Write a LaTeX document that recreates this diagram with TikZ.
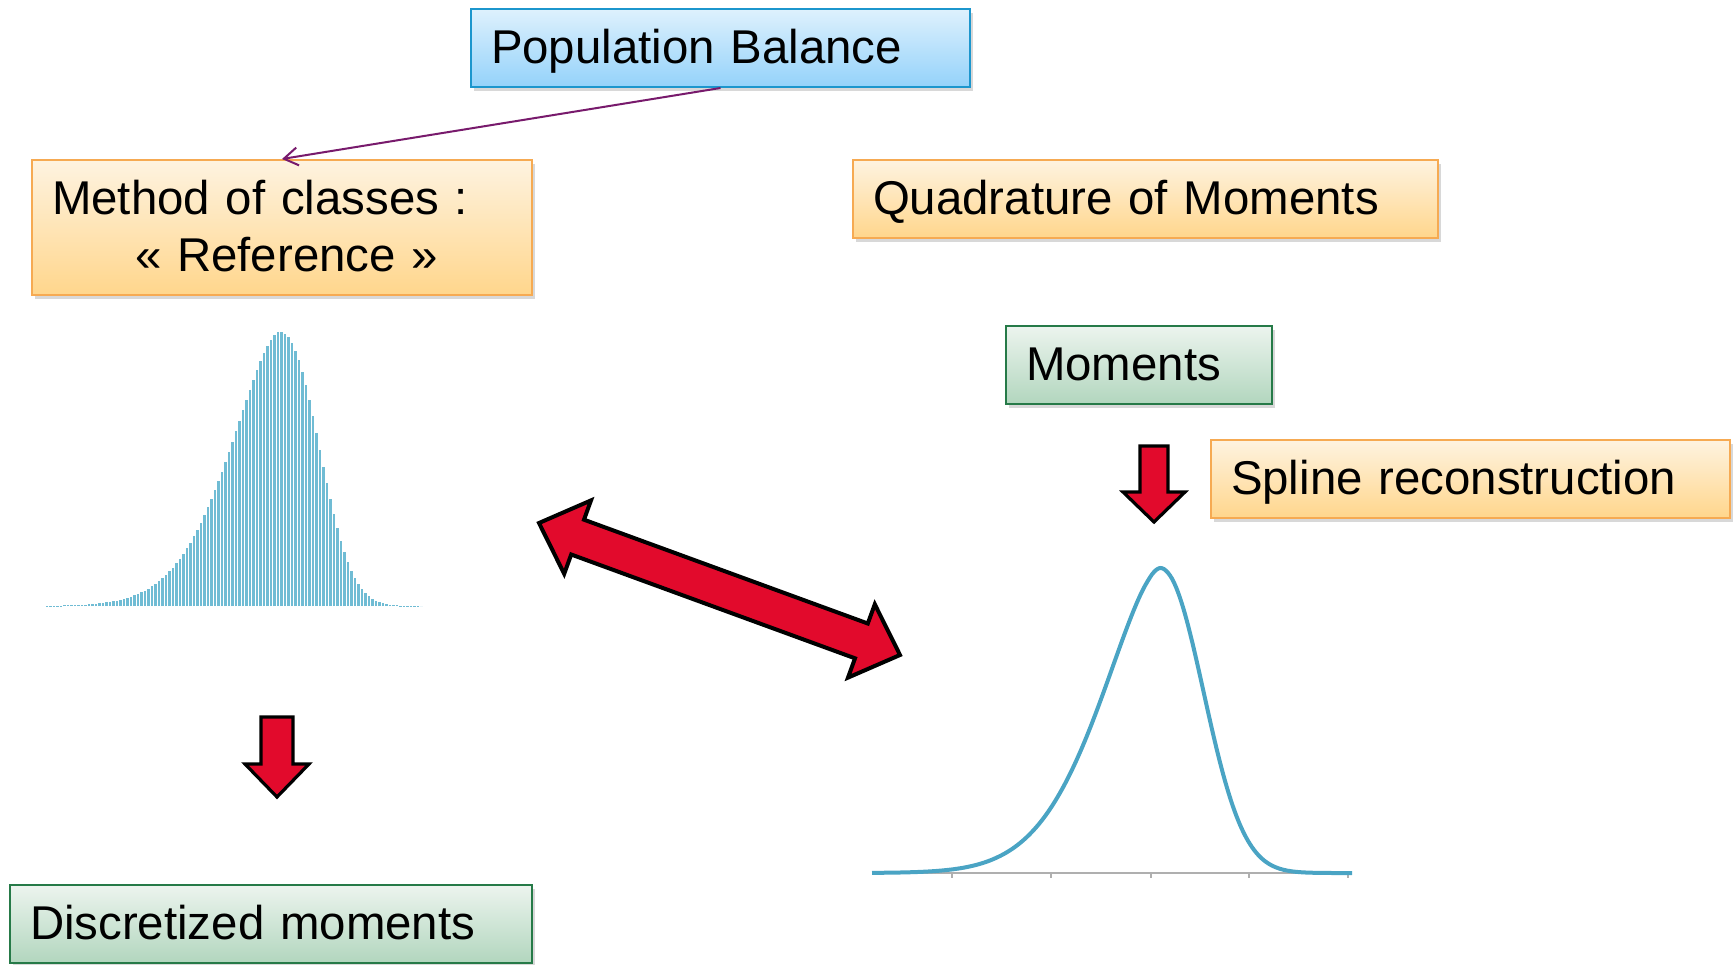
\documentclass[tikz,border=0pt]{standalone}
\usepackage{fontspec}
\setmainfont{Liberation Sans}
\usetikzlibrary{arrows.meta,shadows}

\definecolor{boxorange}{RGB}{246,170,82}
\definecolor{orangetop}{RGB}{254,243,224}
\definecolor{orangebot}{RGB}{255,214,140}
\definecolor{boxblue}{RGB}{28,150,205}
\definecolor{bluetop}{RGB}{222,241,253}
\definecolor{bluebot}{RGB}{148,210,250}
\definecolor{boxgreen}{RGB}{38,122,72}
\definecolor{greentop}{RGB}{236,244,238}
\definecolor{greenbot}{RGB}{178,214,190}
\definecolor{arrowred}{RGB}{226,10,44}
\definecolor{linkpurple}{RGB}{120,26,108}
\definecolor{curveblue}{RGB}{74,164,196}
\definecolor{barblue}{RGB}{112,188,212}
\definecolor{axisgrey}{RGB}{175,175,175}

\begin{document}
\begin{tikzpicture}[x=0.5pt,y=0.5pt,yscale=-1,xscale=1,
  textbox/.style={anchor=north west, rectangle, line width=1pt, inner xsep=10pt, inner ysep=0pt,
    align=left, font=\fontsize{23.7pt}{28.5pt}\selectfont, text height=27.3pt, text depth=11.7pt,
    drop shadow={shadow xshift=1.5pt, shadow yshift=-2pt, opacity=0.3}},
  orangebox/.style={textbox, draw=boxorange, top color=orangetop, bottom color=orangebot},
  bluebox/.style={textbox, draw=boxblue, top color=bluetop, bottom color=bluebot},
  greenbox/.style={textbox, draw=boxgreen, top color=greentop, bottom color=greenbot},
  link/.style={draw=linkpurple, line width=1pt, -{Straight Barb[length=7pt,width=9pt]}},
  blockarrow/.style={fill=arrowred, draw=black, line width=1.6pt, line join=miter},
  bar/.style={draw=barblue, line width=1.25pt},
  curve/.style={draw=curveblue, line width=2pt, line join=round},
  axisline/.style={draw=axisgrey, line width=0.6pt}]
%set diagram size
\path[use as bounding box, fill=white] (0,0) rectangle (1735,964);

% Text Node
\node[bluebox, text width=229.5pt] (popbal) at (470,8) {Population Balance};
% Text Node
\node[orangebox, text width=230pt, text depth=40.2pt] (classes) at (31,159) {Method of classes :\\\hspace*{41.5pt}« Reference »};
% Text Node
\node[orangebox, text width=272.5pt] (quadmom) at (852,159) {Quadrature of Moments};
% Text Node
\node[greenbox, text width=113pt] (moments) at (1005,325) {Moments};
% Text Node
\node[orangebox, text width=239.5pt] (spline) at (1210,439) {Spline reconstruction};
% Text Node
\node[greenbox, text width=241pt] (discmom) at (9,884) {Discretized moments};

%Straight Lines
\draw[link] (popbal.south) -- (classes.north);

%Histogram of classes
\foreach \i in {0,...,107}{
  \pgfmathsetmacro{\xb}{47+3.5*\i}
  \pgfmathsetmacro{\hb}{\xb<279 ? 274*exp(-pow(abs(\xb-279)/70.1,1.63)) : 274*exp(-pow(abs(\xb-279)/52.9,2.27))}
  \draw[bar] (\xb,606) -- (\xb,606-\hb);
}

%Reconstructed curve and axis
\draw[axisline] (872,873) -- (1352,873);
\foreach \xt in {952,1051,1151,1249,1348}{
  \draw[axisline] (\xt,873) -- (\xt,878);
}
\draw[curve] plot[smooth, domain=872:1352, samples=121] (\x,{873-305*(\x<1160 ? exp(-pow(abs(\x-1160)/83.8+0.0001,1.64)) : exp(-pow(abs(\x-1160)/59.6+0.0001,2.08)))});

%Shape: Left-Right Arrow
\draw[blockarrow, line width=2pt] (539,523) -- (591,500.4) -- (584,519.7) -- (867.8,623.5) -- (874.8,604.3) -- (900,655) -- (848,677.6) -- (855,658.3) -- (571.2,554.5) -- (564.2,573.8) -- cycle;
%Shape: Down Arrow
\draw[blockarrow] (261,717) -- (293,717) -- (293,764) -- (309,764) -- (277,797) -- (245,764) -- (261,764) -- cycle;
%Shape: Down Arrow
\draw[blockarrow] (1140,446) -- (1168,446) -- (1168,492) -- (1185,492) -- (1154,522) -- (1123,492) -- (1140,492) -- cycle;

\end{tikzpicture}
\end{document}
